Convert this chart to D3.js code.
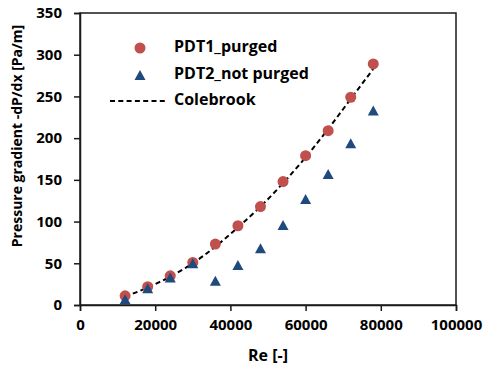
<!DOCTYPE html>
<html>
<head>
<meta charset="utf-8">
<script src="https://cdn.jsdelivr.net/npm/d3@7"></script>
<style>
  html, body { margin: 0; padding: 0; background: #fff; }
  svg { display: block; }
  text { font-family: "Open Sans", Lato, sans-serif; font-weight: bold; fill: #000; }
</style>
</head>
<body>
<svg id="chart" width="483" height="368"></svg>
<script>
// Reynolds numbers of the measurement runs
const reynolds = [12000, 18000, 24000, 30000, 36000, 42000, 48000, 54000, 60000, 66000, 72000, 78000];
// Measured pressure gradient, PDT1 (purged) [Pa/m]
const pdt1Purged = [11, 22, 35, 51, 73, 95, 118, 148, 179, 209, 249, 289];
// Measured pressure gradient, PDT2 (not purged) [Pa/m]
const pdt2NotPurged = [7, 20, 33, 50, 29, 48, 68, 96, 127, 157, 194, 233];
// Colebrook prediction at the same Reynolds numbers [Pa/m]
const colebrook = [10, 21, 34, 50, 70, 93, 118, 146, 177, 211, 247, 283];

const xTicks = [0, 20000, 40000, 60000, 80000, 100000];
const yTicks = [0, 50, 100, 150, 200, 250, 300, 350];

const seriesNames = ["PDT1_purged", "PDT2_not purged", "Colebrook"];
const colors = { red: "#C0504D", blue: "#1F4A7E", line: "#000" };
const font = "'Open Sans', Lato, sans-serif";

const svg = d3.select("#chart");
const m = { left: 80, right: 456, top: 13, bottom: 305 };

const x = d3.scaleLinear().domain([0, 100000]).range([m.left, m.right]);
const y = d3.scaleLinear().domain([0, 350]).range([m.bottom, m.top]);

// Plot frame
svg.append("rect")
  .attr("x", m.left).attr("y", m.top)
  .attr("width", m.right - m.left).attr("height", m.bottom - m.top)
  .attr("fill", "none").attr("stroke", "#1a1a1a").attr("stroke-width", 1.5);

// Axes
const xAxis = svg.append("g")
  .attr("transform", `translate(0,${m.bottom})`)
  .call(d3.axisBottom(x).tickValues(xTicks).tickSize(6).tickPadding(8).tickFormat(d3.format("d")));
const yAxis = svg.append("g")
  .attr("transform", `translate(${m.left},0)`)
  .call(d3.axisLeft(y).tickValues(yTicks).tickSize(6).tickPadding(12).tickFormat(d3.format("d")));

[xAxis, yAxis].forEach(g => {
  g.select(".domain").attr("stroke", "#1a1a1a").attr("stroke-width", 1.5);
  g.selectAll(".tick line").attr("stroke", "#1a1a1a").attr("stroke-width", 1.5);
  g.selectAll(".tick text")
    .attr("font-family", font)
    .attr("font-weight", "bold")
    .attr("font-size", 15)
    .attr("fill", "#000");
});

// Axis titles
svg.append("text")
  .attr("x", (m.left + m.right) / 2).attr("y", 357)
  .attr("text-anchor", "middle").attr("dominant-baseline", "middle")
  .attr("font-size", 16)
  .text("Re [-]");

svg.append("text")
  .attr("transform", "translate(18,136) rotate(-90)")
  .attr("text-anchor", "middle").attr("dominant-baseline", "middle")
  .attr("font-size", 14)
  .text("Pressure gradient -dP/dx [Pa/m]");

// Colebrook curve
const line = d3.line()
  .x((d, i) => x(reynolds[i]))
  .y(d => y(d))
  .curve(d3.curveMonotoneX);
svg.append("path")
  .datum(colebrook)
  .attr("d", line)
  .attr("fill", "none")
  .attr("stroke", colors.line)
  .attr("stroke-width", 2)
  .attr("stroke-dasharray", "5,3.3");

// Triangle marker path, 11px wide and 10px tall, centred on (cx, cy)
function triangle(cx, cy) {
  const w = 11, h = 10;
  return `M${cx},${cy - h / 2}L${cx + w / 2},${cy + h / 2}L${cx - w / 2},${cy + h / 2}Z`;
}

// PDT1 circles
svg.append("g").selectAll("circle")
  .data(pdt1Purged)
  .join("circle")
  .attr("cx", (d, i) => x(reynolds[i]))
  .attr("cy", d => y(d))
  .attr("r", 5.5)
  .attr("fill", colors.red);

// PDT2 triangles
svg.append("g").selectAll("path")
  .data(pdt2NotPurged)
  .join("path")
  .attr("d", (d, i) => triangle(x(reynolds[i]), y(d)))
  .attr("fill", colors.blue);

// Legend
const legend = svg.append("g");
legend.append("circle").attr("cx", 140).attr("cy", 48).attr("r", 5.5).attr("fill", colors.red);
legend.append("path").attr("d", triangle(140, 75)).attr("fill", colors.blue);
legend.append("line")
  .attr("x1", 110).attr("x2", 168).attr("y1", 101).attr("y2", 101)
  .attr("stroke", colors.line).attr("stroke-width", 2).attr("stroke-dasharray", "5,3.3");
[48, 75, 101].forEach((ly, i) => {
  legend.append("text")
    .attr("x", 174).attr("y", ly)
    .attr("dominant-baseline", "middle")
    .attr("font-size", 16)
    .text(seriesNames[i]);
});
</script>
</body>
</html>
